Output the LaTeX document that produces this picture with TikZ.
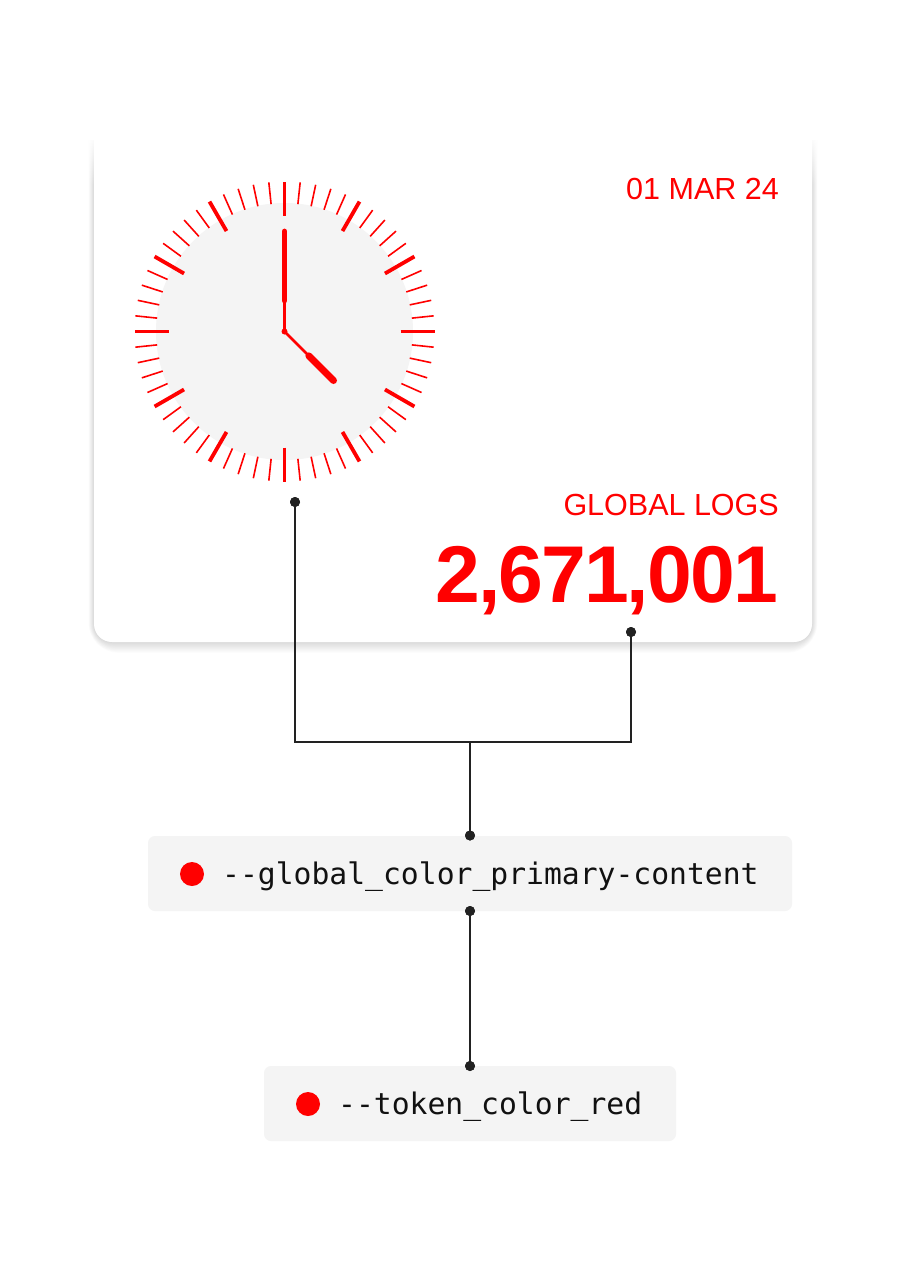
\documentclass[tikz,border=0pt]{standalone}
\usepackage{fontspec}
\usetikzlibrary{fadings}
\setmainfont{Liberation Sans}
\newfontfamily\monof{DejaVu Sans Mono}
\newfontfamily\numf[LetterSpace=-2.4]{Liberation Sans}
\definecolor{rd}{HTML}{FF0000}
\definecolor{face}{HTML}{F4F4F4}
\definecolor{ln}{HTML}{222222}
\definecolor{ink}{HTML}{111111}
\tikzset{
  minortick/.style={draw=rd, line width=1.6pt},
  majortick/.style={draw=rd, line width=3.8pt},
  dotnode/.style={circle, fill=ln, inner sep=0pt, minimum size=10pt},
  conn/.style={draw=ln, line width=2pt},
  tokbox/.style={fill=face, rounded corners=7pt, inner sep=0pt},
  reddot/.style={circle, fill=rd, inner sep=0pt, minimum size=24pt},
  toktext/.style={text=ink, inner sep=0pt, font=\monof\fontsize{29.7}{30}\selectfont},
  redtext/.style={text=rd, inner sep=0pt}
}
\begin{document}
\begin{tikzpicture}[x=1pt,y=-1pt]
\useasboundingbox (0,0) rectangle (924,1286);
\fill[white] (0,0) rectangle (924,1286);
% card shadow
\foreach \i in {1,...,12}{
  \fill[black, opacity=0.010, rounded corners=18pt+\i pt]
    (94-\i*0.45,140) -- (94-\i*0.45,642+\i*0.9) -- (812+\i*0.45,642+\i*0.9) -- (812+\i*0.45,140);
}
\fill[white, rounded corners=18pt] (94,130) -- (94,642) -- (812,642) -- (812,130);
\fill[white, path fading=south] (70,135) rectangle (840,185);
% clock
\node[circle, fill=face, minimum size=257pt, inner sep=0pt] (face) at (284.5,331.5) {};
\begin{scope}[shift={(284.5,331.5)}]
  \foreach \h in {0,...,11}{
    \draw[majortick] ({30*\h}:116) -- ({30*\h}:150);
    \foreach \m in {1,...,4}{
      \draw[minortick] ({30*\h+6*\m}:128) -- ({30*\h+6*\m}:150);
    }
  }
  % minute hand
  \draw[rd, line width=2.7pt] (0,0) -- (0,-31);
  \draw[rd, line width=5.8pt, line cap=round] (0,-31) -- (0,-100);
  % hour hand
  \draw[rd, line width=2.7pt] (0,0) -- (24.4,24.4);
  \draw[rd, line width=7pt, line cap=round] (24.4,24.4) -- (49,49);
  \fill[rd] (0,0) circle (3pt);
\end{scope}
% texts on card
\node[redtext, anchor=base east, font=\fontsize{30.5}{31}\selectfont] (date) at (779,199) {01 MAR 24};
\node[redtext, anchor=base east, font=\fontsize{30.5}{31}\selectfont] (label) at (779,515.5) {GLOBAL LOGS};
\node[redtext, anchor=base east, font=\numf\bfseries\fontsize{80.5}{81}\selectfont] (num) at (778,602.7) {2,671,001};
% token boxes
\node[tokbox, minimum width=644pt, minimum height=75pt] (b1) at (470,873.5) {};
\node[reddot] (r1) at (192,874) {};
\node[toktext, anchor=base west] (t1) at (222,884) {-{}-global\_color\_primary-content};
\node[tokbox, minimum width=412pt, minimum height=75pt] (b2) at (470,1103.5) {};
\node[reddot] (r2) at (308,1104) {};
\node[toktext, anchor=base west] (t2) at (338,1114) {-{}-token\_color\_red};
% connectors
\coordinate (j) at (470,742);
\node[dotnode] (d1) at (295,502) {};
\node[dotnode] (d2) at (631,632) {};
\node[dotnode] (d3) at (470,835.5) {};
\node[dotnode] (d4) at (470,911) {};
\node[dotnode] (d5) at (470,1066) {};
\draw[conn] (d1.center) |- (j) -| (d2.center);
\draw[conn] (j) -- (d3.center);
\draw[conn] (d4.center) -- (d5.center);
\node[dotnode] at (d1) {};
\node[dotnode] at (d2) {};
\node[dotnode] at (d3) {};
\node[dotnode] at (d4) {};
\node[dotnode] at (d5) {};
\end{tikzpicture}
\end{document}
